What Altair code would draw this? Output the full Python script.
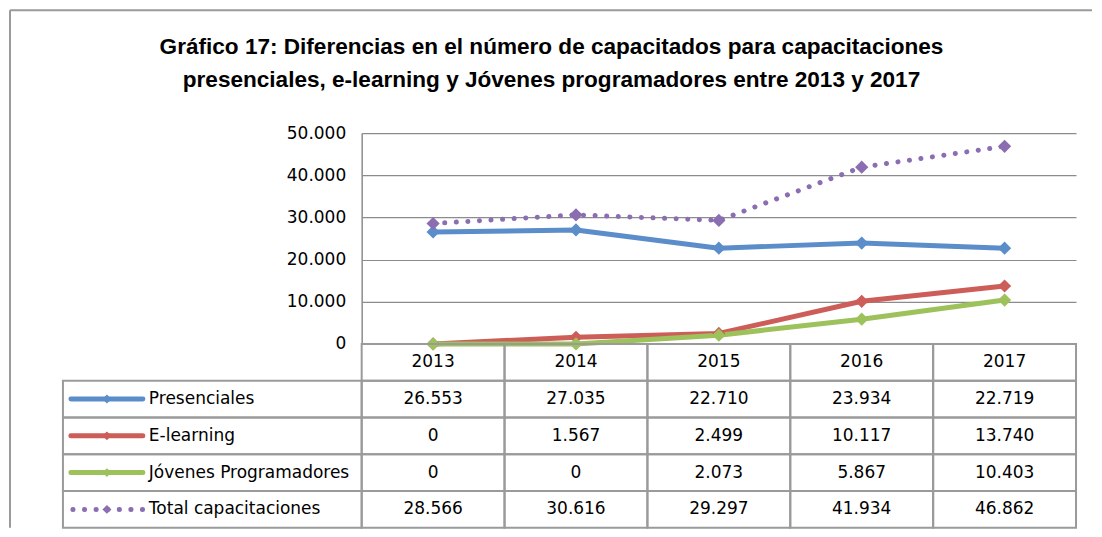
import altair as alt
import pandas as pd

# ---------------- data ----------------
years = ["2013", "2014", "2015", "2016", "2017"]
series = ["Presenciales", "E-learning", "Jóvenes Programadores", "Total capacitaciones"]
presenciales = [26553, 27035, 22710, 23934, 22719]
e_learning = [0, 1567, 2499, 10117, 13740]
jovenes = [0, 0, 2073, 5867, 10403]
total = [28566, 30616, 29297, 41934, 46862]
y_ticks = [0, 10000, 20000, 30000, 40000, 50000]
header_key = "Año"
title_lines = [
    "Gráfico 17: Diferencias en el número de capacitados para capacitaciones",
    "presenciales, e-learning y Jóvenes programadores entre 2013 y 2017",
]

# ---------------- style ----------------
colors = ["#5A8DC9", "#CD5D58", "#9DC15B", "#8B6DB1"]
FONT = "DejaVu Sans"
GRID = "#8C8C8C"
BORDER = "#9A9A9A"
W_LEG, W_TAB, H_PLOT, H_TAB = 299, 715, 211, 184
H_ALL = H_PLOT + H_TAB
FMT = "replace(format(datum.value, ',d'), ',', '.')"

records = []
for name, vals in zip(series, [presenciales, e_learning, jovenes, total]):
    for yr, v in zip(years, vals):
        records.append({"serie": name, "year": yr, "value": v})
data = pd.DataFrame(records)
solid = data[data.serie != series[3]]
dotted = data[data.serie == series[3]]

x_scale = alt.Scale(type="band", domain=years, paddingInner=0, paddingOuter=0)
row_scale = alt.Scale(type="band", domain=[header_key] + series, range=[H_PLOT, H_ALL],
                      paddingInner=0, paddingOuter=0)
val_scale = alt.Scale(domain=[0, 50000], range=[H_PLOT, 0], nice=False, zero=True)
color = alt.Color("serie:N", scale=alt.Scale(domain=series, range=colors), legend=None)

x_pos = alt.X("year:N", scale=x_scale, axis=None, bandPosition=0.5)
x_band = alt.X("year:N", scale=x_scale, axis=None)
y_val = alt.Y(
    "value:Q",
    scale=val_scale,
    axis=alt.Axis(
        values=y_ticks, title=None, grid=True, gridColor=GRID, gridWidth=1.2,
        domainColor=GRID, domainWidth=1.5, ticks=False, tickSize=0, labelPadding=16,
        labelFont=FONT, labelFontSize=17, labelColor="black", labelExpr=FMT,
    ),
)

# ---------------- line plot ----------------
lines_solid = alt.Chart(solid).mark_line(strokeWidth=5, strokeJoin="round", strokeCap="round").encode(
    x=x_pos, y=y_val, color=color
)
lines_dotted = alt.Chart(dotted).mark_line(strokeWidth=5, strokeCap="round", strokeDash=[0.1, 11.5]).encode(
    x=x_pos, y=y_val, color=color
)
points = alt.Chart(data).mark_point(shape="diamond", filled=True, size=175, opacity=1).encode(
    x=x_pos, y=y_val, color=color
)
plot = alt.layer(lines_solid, lines_dotted, points)

# ---------------- data table ----------------
cells_df = pd.DataFrame([{"year": yr, "row": r} for r in [header_key] + series for yr in years])
cells = alt.Chart(cells_df).mark_rect(fillOpacity=0, stroke=BORDER, strokeWidth=2).encode(
    x=x_band, y=alt.Y("row:N", scale=row_scale, axis=None)
)
hdr_df = pd.DataFrame({"year": years, "row": [header_key] * len(years)})
hdr_text = alt.Chart(hdr_df).mark_text(font=FONT, fontSize=17, color="black").encode(
    x=x_pos, y=alt.Y("row:N", scale=row_scale, axis=None, bandPosition=0.5), text="year:N"
)
val_text = alt.Chart(data).transform_calculate(label=FMT).mark_text(
    font=FONT, fontSize=17, color="black"
).encode(
    x=x_pos, y=alt.Y("serie:N", scale=row_scale, axis=None, bandPosition=0.5), text="label:N"
)
table = alt.layer(cells, hdr_text, val_text)

right = alt.layer(plot, table).resolve_scale(y="independent").properties(width=W_TAB, height=H_ALL)

# ---------------- legend column of the table + outer frame ----------------
leg_df = pd.DataFrame({"serie": series})
leg_y = alt.Y("serie:N", scale=row_scale, axis=None, bandPosition=0.5)
leg_cells = alt.Chart(leg_df).mark_rect(fillOpacity=0, stroke=BORDER, strokeWidth=2).encode(
    y=alt.Y("serie:N", scale=row_scale, axis=None)
)
glyph_solid = alt.Chart(leg_df[leg_df.serie != series[3]]).mark_rule(strokeWidth=5, strokeCap="round").encode(
    x=alt.value(8), x2=alt.value(80), y=leg_y, color=color
)
glyph_dotted = alt.Chart(leg_df[leg_df.serie == series[3]]).mark_rule(
    strokeWidth=5, strokeCap="round", strokeDash=[0.1, 11.5]
).encode(x=alt.value(10), x2=alt.value(82), y=leg_y, color=color)
glyph_pts = alt.Chart(leg_df).mark_point(shape="diamond", filled=True, size=80, opacity=1).encode(
    x=alt.value(44), y=leg_y, color=color
)
leg_text = alt.Chart(leg_df).mark_text(font=FONT, fontSize=17, color="black", align="left").encode(
    x=alt.value(86), y=leg_y, text="serie:N"
)
frame_df = pd.DataFrame({"k": [0]})
frame_left = alt.Chart(frame_df).mark_rule(stroke=BORDER, strokeWidth=2).encode(
    x=alt.value(-53), y=alt.value(-123), y2=alt.value(H_ALL)
)
frame_top = alt.Chart(frame_df).mark_rule(stroke=BORDER, strokeWidth=2).encode(
    x=alt.value(-53), x2=alt.value(1030), y=alt.value(-123)
)
left = alt.layer(frame_left, frame_top, leg_cells, glyph_solid, glyph_dotted, glyph_pts, leg_text).properties(
    width=W_LEG, height=H_ALL
)

chart = alt.hconcat(left, right, spacing=0, bounds="flush").properties(
    title=alt.TitleParams(
        text=title_lines, font="Liberation Sans", fontSize=22.6, fontWeight="bold", color="black",
        anchor="middle", frame="group", dx=489, offset=-106, baseline="bottom", lineHeight=33,
    ),
    padding=0,
).configure_view(stroke="transparent")

chart.save("out.html", embed_options={"renderer": "svg", "actions": False})
